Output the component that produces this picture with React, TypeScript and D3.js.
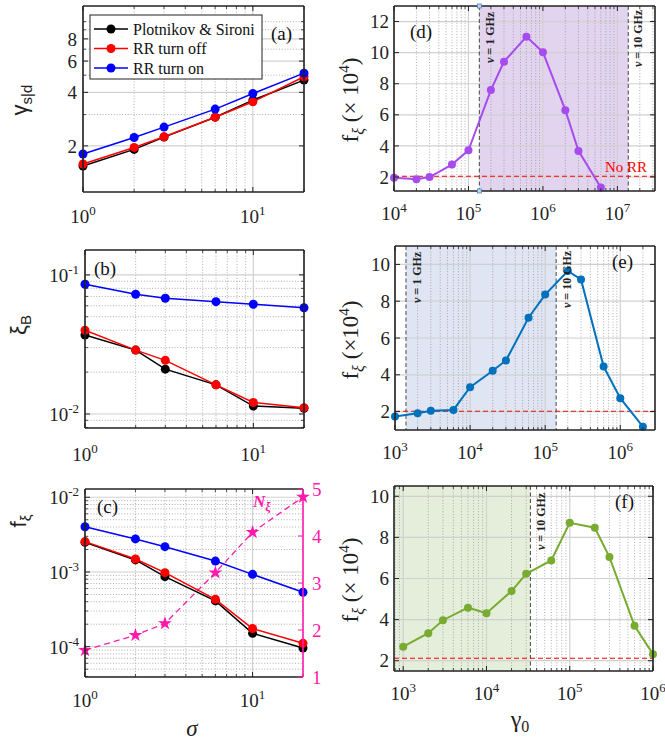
import React from "react";
import * as d3 from "d3";

const SERIF = "'Liberation Serif', 'Times New Roman', serif";
const SANS = "'Liberation Sans', Arial, sans-serif";

// ---------- data ----------
const SIGMA = [1, 2, 3, 6, 10, 20];
const GAMMA_PS = [1.54, 1.91, 2.24, 2.9, 3.62, 4.69];
const GAMMA_OFF = [1.58, 1.96, 2.25, 2.9, 3.54, 4.9];
const GAMMA_ON = [1.8, 2.23, 2.55, 3.22, 3.94, 5.13];
const XIB_PS = [0.037, 0.0288, 0.021, 0.0162, 0.0114, 0.011];
const XIB_OFF = [0.04, 0.0288, 0.0243, 0.0162, 0.0121, 0.0111];
const XIB_ON = [0.0857, 0.0726, 0.0679, 0.0642, 0.0615, 0.058];
const F_PS = [0.0025, 0.00145, 0.000865, 0.00041, 0.000151, 0.000096];
const F_OFF = [0.00255, 0.00149, 0.00098, 0.000431, 0.000175, 0.000111];
const F_ON = [0.00403, 0.00277, 0.00218, 0.0014, 0.00093, 0.000535];
const N_XI = [1.57, 1.89, 2.14, 3.22, 4.08, 4.83];

const GAMMA0_D = [1e4, 2e4, 3e4, 6e4, 1e5, 2e5, 3e5, 6e5, 1e6, 2e6, 3e6, 6e6];
const FXI_D = [1.96, 1.85, 2.0, 2.8, 3.72, 7.59, 9.42, 11.03, 10.03, 6.3, 3.68, 1.32];
const GAMMA0_E = [1e3, 2e3, 3e3, 6e3, 1e4, 2e4, 3e4, 6e4, 1e5, 2e5, 3e5, 6e5, 1e6, 2e6];
const FXI_E = [1.73, 1.91, 2.04, 2.09, 3.33, 4.22, 4.78, 7.1, 8.36, 9.64, 9.18, 4.45, 2.73, 1.18];
const GAMMA0_F = [1e3, 2e3, 3e3, 6e3, 1e4, 2e4, 3e4, 6e4, 1e5, 2e5, 3e5, 6e5, 1e6];
const FXI_F = [2.68, 3.34, 3.97, 4.58, 4.31, 5.39, 6.23, 6.88, 8.71, 8.47, 7.04, 3.7, 2.32];

const NO_RR_D = 2.05;
const NO_RR_E = 2.02;
const NO_RR_F = 2.12;
const BAND_D = [1.4e5, 1.4e7];
const BAND_E = [1.4e3, 1.4e5];
const BAND_F_EDGE = 3.37e4;

const TICKS_A_Y = [2, 4, 6, 8];
const TICKS_B_Y = [0.01, 0.1];
const TICKS_C_Y = [1e-4, 1e-3, 1e-2];
const TICKS_C_R = [1, 2, 3, 4, 5];
const TICKS_SIGMA = [1, 10];
const TICKS_D_X = [1e4, 1e5, 1e6, 1e7];
const TICKS_EF_X = [1e3, 1e4, 1e5, 1e6];
const TICKS_D_Y = [2, 4, 6, 8, 10, 12];
const TICKS_EF_Y = [2, 4, 6, 8, 10];

const LEGEND = [
  { label: "Plotnikov & Sironi", color: "#000000" },
  { label: "RR turn off", color: "#ff0000" },
  { label: "RR turn on", color: "#0000ff" },
];

const PURPLE = "#a64bee";
const MBLUE = "#0072bd";
const MGREEN = "#77ac30";
const PINK = "#ff1aac";

// ---------- helpers ----------
function logMinor(lo: number, hi: number) {
  const out: number[] = [];
  for (let k = Math.floor(Math.log10(lo)) - 1; k <= Math.ceil(Math.log10(hi)); k++) {
    for (let m = 1; m < 10; m++) {
      const v = m * Math.pow(10, k);
      if (v >= lo * 0.9999 && v <= hi * 1.0001) out.push(v);
    }
  }
  return out;
}
const isDecade = (v: number) => Math.abs(Math.log10(v) - Math.round(Math.log10(v))) < 1e-6;

type Box = { x0: number; x1: number; y0: number; y1: number };

function Grid({ b, xs, ys, xMajor, xMinor, yMajor, yMinor }: any) {
  const els: any[] = [];
  xMinor.forEach((v: number, i: number) =>
    els.push(<line key={"xm" + i} x1={xs(v)} x2={xs(v)} y1={b.y0} y2={b.y1} stroke="#9a9a9a" strokeWidth={0.8} strokeDasharray="1,1.8" />)
  );
  yMinor.forEach((v: number, i: number) =>
    els.push(<line key={"ym" + i} y1={ys(v)} y2={ys(v)} x1={b.x0} x2={b.x1} stroke="#9a9a9a" strokeWidth={0.8} strokeDasharray="1,1.8" />)
  );
  xMajor.forEach((v: number, i: number) =>
    els.push(<line key={"xM" + i} x1={xs(v)} x2={xs(v)} y1={b.y0} y2={b.y1} stroke="#d0d0d0" strokeWidth={1.2} />)
  );
  yMajor.forEach((v: number, i: number) =>
    els.push(<line key={"yM" + i} y1={ys(v)} y2={ys(v)} x1={b.x0} x2={b.x1} stroke="#d0d0d0" strokeWidth={1.2} />)
  );
  return <g>{els}</g>;
}

function Frame({ b, xs, ys, xMajor, xMinor, yMajor, yMinor, rightColor }: any) {
  const els: any[] = [];
  const c = "#222";
  xMajor.forEach((v: number, i: number) => {
    const x = xs(v);
    els.push(<line key={"tb" + i} x1={x} x2={x} y1={b.y1} y2={b.y1 - 5} stroke={c} strokeWidth={1} />);
    els.push(<line key={"tt" + i} x1={x} x2={x} y1={b.y0} y2={b.y0 + 5} stroke={c} strokeWidth={1} />);
  });
  xMinor.forEach((v: number, i: number) => {
    const x = xs(v);
    els.push(<line key={"mb" + i} x1={x} x2={x} y1={b.y1} y2={b.y1 - 3} stroke={c} strokeWidth={0.8} />);
    els.push(<line key={"mt" + i} x1={x} x2={x} y1={b.y0} y2={b.y0 + 3} stroke={c} strokeWidth={0.8} />);
  });
  yMajor.forEach((v: number, i: number) => {
    const y = ys(v);
    els.push(<line key={"tl" + i} y1={y} y2={y} x1={b.x0} x2={b.x0 + 5} stroke={c} strokeWidth={1} />);
    if (!rightColor) els.push(<line key={"tr" + i} y1={y} y2={y} x1={b.x1} x2={b.x1 - 5} stroke={c} strokeWidth={1} />);
  });
  yMinor.forEach((v: number, i: number) => {
    const y = ys(v);
    els.push(<line key={"ml" + i} y1={y} y2={y} x1={b.x0} x2={b.x0 + 3} stroke={c} strokeWidth={0.8} />);
    if (!rightColor) els.push(<line key={"mr" + i} y1={y} y2={y} x1={b.x1} x2={b.x1 - 3} stroke={c} strokeWidth={0.8} />);
  });
  return (
    <g>
      {els}
      <line x1={b.x0} x2={b.x1} y1={b.y0} y2={b.y0} stroke={c} strokeWidth={1.6} />
      <line x1={b.x0} x2={b.x1} y1={b.y1} y2={b.y1} stroke={c} strokeWidth={1.6} />
      <line x1={b.x0} x2={b.x0} y1={b.y0} y2={b.y1} stroke={c} strokeWidth={1.6} />
      <line x1={b.x1} x2={b.x1} y1={b.y0} y2={b.y1} stroke={rightColor || c} strokeWidth={1.6} />
    </g>
  );
}

function Pow10({ x, y, v, anchor = "middle" }: any) {
  const e = Math.round(Math.log10(v));
  return (
    <text x={x} y={y} textAnchor={anchor} fontFamily={SERIF} fontSize={19} fill="#222">
      10<tspan dy={-8} fontSize={13}>{e}</tspan>
    </text>
  );
}

function Series({ xs, ys, X, Y, color, r = 4.5, w = 1.5 }: any) {
  const pts = X.map((x: number, i: number) => [x, Y[i]]);
  const line = d3.line<number[]>().x((d) => xs(d[0])).y((d) => ys(d[1]));
  return (
    <g>
      <path d={line(pts) || ""} fill="none" stroke={color} strokeWidth={w} />
      {pts.map((p: number[], i: number) => (
        <circle key={i} cx={xs(p[0])} cy={ys(p[1])} r={r} fill={color} />
      ))}
    </g>
  );
}

function VText({ x, y, text, size = 12 }: any) {
  return (
    <text transform={`translate(${x},${y}) rotate(-90)`} fontFamily={SERIF} fontSize={size} fontWeight="bold" fill="#222" dominantBaseline="central">
      <tspan fontStyle="italic">ν</tspan>
      {text}
    </text>
  );
}

function RightYLabel({ x, y, spaced }: any) {
  return (
    <text transform={`translate(${x},${y}) rotate(-90)`} textAnchor="middle" fontFamily={SERIF} fontSize={23} fill="#222">
      f<tspan dy={6} fontSize={16} fontStyle="italic">ξ</tspan>
      <tspan dy={-6}>{spaced ? " (× 10" : " (×10"}</tspan>
      <tspan dy={-9} fontSize={15}>4</tspan>
      <tspan dy={9}>)</tspan>
    </text>
  );
}

export default function App() {
  // ---- left column scales ----
  const bA: Box = { x0: 83, x1: 304, y0: 6, y1: 192 };
  const xA = d3.scaleLog().domain([1, 20]).range([bA.x0, bA.x1]);
  const yA = d3.scaleLog().domain([1.1, 12.25]).range([bA.y1, bA.y0]);

  const bB: Box = { x0: 85, x1: 304, y0: 250, y1: 428 };
  const xB = d3.scaleLog().domain([1, 20]).range([bB.x0, bB.x1]);
  const yB = d3.scaleLog().domain([0.00793, 0.151]).range([bB.y1, bB.y0]);

  const bC: Box = { x0: 85, x1: 303, y0: 489, y1: 677 };
  const xC = d3.scaleLog().domain([1, 20]).range([bC.x0, bC.x1]);
  const yC = d3.scaleLog().domain([3.93e-5, 0.0129]).range([bC.y1, bC.y0]);
  const yCR = d3.scaleLinear().domain([1, 5]).range([bC.y1, bC.y0]);

  // ---- right column ----
  const bD: Box = { x0: 394, x1: 655, y0: 6, y1: 191 };
  const xD = d3.scaleLog().domain([1e4, 3.2e7]).range([bD.x0, bD.x1]);
  const yD = d3.scaleLinear().domain([1.1, 13]).range([bD.y1, bD.y0]);

  const bE: Box = { x0: 395, x1: 655, y0: 246, y1: 430 };
  const xE = d3.scaleLog().domain([1e3, 2.9e6]).range([bE.x0, bE.x1]);
  const yE = d3.scaleLinear().domain([1, 11]).range([bE.y1, bE.y0]);

  const bF: Box = { x0: 394, x1: 653, y0: 486, y1: 671 };
  const xF = d3.scaleLog().domain([775, 1e6]).range([bF.x0, bF.x1]);
  const yF = d3.scaleLinear().domain([1.5, 10.5]).range([bF.y1, bF.y0]);

  const sigMinor = logMinor(1, 20).filter((v) => !isDecade(v));
  const aYMinor = logMinor(1.1, 12.25).filter((v) => !TICKS_A_Y.includes(v));
  const bYMinor = logMinor(0.00793, 0.151).filter((v) => !isDecade(v));
  const cYMinor = logMinor(3.93e-5, 0.0129).filter((v) => !isDecade(v));
  const dXMinor = logMinor(1e4, 3.2e7).filter((v) => !isDecade(v));
  const eXMinor = logMinor(1e3, 2.9e6).filter((v) => !isDecade(v));
  const fXMinor = logMinor(775, 1e6).filter((v) => !isDecade(v));

  const star = d3.symbol().type(d3.symbolStar).size(60)();
  const nLine = d3.line<number>().x((_, i) => xC(SIGMA[i])).y((d) => yCR(d));

  return (
    <div style={{ position: "absolute", left: 0, top: 0 }}>
      <svg width={665} height={741} viewBox="0 0 665 741" style={{ display: "block", background: "#fff" }}>
        <rect x={0} y={0} width={665} height={741} fill="#fff" />

        {/* ================= (a) ================= */}
        <Grid b={bA} xs={xA} ys={yA} xMajor={TICKS_SIGMA} xMinor={sigMinor} yMajor={TICKS_A_Y} yMinor={aYMinor} />
        <Series xs={xA} ys={yA} X={SIGMA} Y={GAMMA_PS} color="#000" />
        <Series xs={xA} ys={yA} X={SIGMA} Y={GAMMA_OFF} color="#ff0000" />
        <Series xs={xA} ys={yA} X={SIGMA} Y={GAMMA_ON} color="#0000ff" />
        <Frame b={bA} xs={xA} ys={yA} xMajor={TICKS_SIGMA} xMinor={sigMinor} yMajor={TICKS_A_Y} yMinor={aYMinor} />
        {TICKS_A_Y.map((v) => (
          <text key={v} x={bA.x0 - 6} y={yA(v)} dy="0.35em" textAnchor="end" fontFamily={SERIF} fontSize={19} fill="#222">{v}</text>
        ))}
        {TICKS_SIGMA.map((v) => <Pow10 key={v} x={xA(v)} y={bA.y1 + 31} v={v} />)}
        <g>
          <rect x={90} y={15} width={172} height={64} fill="#fff" stroke="#222" strokeWidth={1} />
          {LEGEND.map((l, i) => (
            <g key={l.label}>
              <line x1={94} x2={128} y1={29 + i * 19.5} y2={29 + i * 19.5} stroke={l.color} strokeWidth={1.5} />
              <circle cx={111} cy={29 + i * 19.5} r={4.5} fill={l.color} />
              <text x={133} y={29 + i * 19.5} dy="0.35em" fontFamily={SERIF} fontSize={16} fill="#111">{l.label}</text>
            </g>
          ))}
        </g>
        <text x={271} y={40} fontFamily={SERIF} fontSize={19} fill="#111">(a)</text>
        <text transform="translate(27,100) rotate(-90)" textAnchor="middle" fontFamily={SANS} fontSize={22} fill="#222">
          γ<tspan dy={5} fontSize={15}>s|d</tspan>
        </text>

        {/* ================= (b) ================= */}
        <Grid b={bB} xs={xB} ys={yB} xMajor={TICKS_SIGMA} xMinor={sigMinor} yMajor={TICKS_B_Y} yMinor={bYMinor} />
        <Series xs={xB} ys={yB} X={SIGMA} Y={XIB_PS} color="#000" />
        <Series xs={xB} ys={yB} X={SIGMA} Y={XIB_OFF} color="#ff0000" />
        <Series xs={xB} ys={yB} X={SIGMA} Y={XIB_ON} color="#0000ff" />
        <Frame b={bB} xs={xB} ys={yB} xMajor={TICKS_SIGMA} xMinor={sigMinor} yMajor={TICKS_B_Y} yMinor={bYMinor} />
        {TICKS_B_Y.map((v) => <Pow10 key={v} x={bB.x0 - 6} y={yB(v) + 7} v={v} anchor="end" />)}
        {TICKS_SIGMA.map((v) => <Pow10 key={v} x={xB(v)} y={bB.y1 + 33} v={v} />)}
        <text x={94} y={275} fontFamily={SERIF} fontSize={19} fill="#111">(b)</text>
        <text transform="translate(26,325) rotate(-90)" textAnchor="middle" fontFamily={SANS} fontSize={22} fill="#222">
          ξ<tspan dy={5} fontSize={15}>B</tspan>
        </text>

        {/* ================= (c) ================= */}
        <Grid b={bC} xs={xC} ys={yC} xMajor={TICKS_SIGMA} xMinor={sigMinor} yMajor={TICKS_C_Y} yMinor={cYMinor} />
        <path d={nLine(N_XI) || ""} fill="none" stroke={PINK} strokeWidth={1.3} strokeDasharray="6,4" />
        {N_XI.map((v, i) => (
          <path key={i} d={star || ""} transform={`translate(${xC(SIGMA[i])},${yCR(v)})`} fill={PINK} />
        ))}
        <Series xs={xC} ys={yC} X={SIGMA} Y={F_ON} color="#0000ff" />
        <Series xs={xC} ys={yC} X={SIGMA} Y={F_PS} color="#000" />
        <Series xs={xC} ys={yC} X={SIGMA} Y={F_OFF} color="#ff0000" />
        <Frame b={bC} xs={xC} ys={yC} xMajor={TICKS_SIGMA} xMinor={sigMinor} yMajor={TICKS_C_Y} yMinor={cYMinor} rightColor={PINK} />
        {TICKS_C_R.map((v) => (
          <g key={v}>
            <line x1={bC.x1} x2={bC.x1 - 5} y1={yCR(v)} y2={yCR(v)} stroke={PINK} strokeWidth={1} />
            <text x={bC.x1 + 9} y={yCR(v)} dy="0.35em" fontFamily={SERIF} fontSize={19} fill={PINK}>{v}</text>
          </g>
        ))}
        {TICKS_C_Y.map((v) => <Pow10 key={v} x={bC.x0 - 6} y={yC(v) + 7} v={v} anchor="end" />)}
        {TICKS_SIGMA.map((v) => <Pow10 key={v} x={xC(v)} y={bC.y1 + 30} v={v} />)}
        <text x={97} y={513} fontFamily={SERIF} fontSize={19} fill="#111">(c)</text>
        <text x={253} y={507} fontFamily={SERIF} fontSize={17} fontWeight="bold" fontStyle="italic" fill={PINK}>
          N<tspan dy={4} fontSize={12}>ξ</tspan>
        </text>
        <text transform="translate(26,521) rotate(-90)" textAnchor="middle" fontFamily={SANS} fontSize={22} fill="#222">
          f<tspan dy={5} fontSize={15}>ξ</tspan>
        </text>
        <text x={192} y={736} textAnchor="middle" fontFamily={SERIF} fontSize={23} fontStyle="italic" fill="#222">σ</text>

        {/* ================= (d) ================= */}
        <rect x={xD(BAND_D[0])} y={bD.y0} width={xD(BAND_D[1]) - xD(BAND_D[0])} height={bD.y1 - bD.y0} fill="#e2d3ee" />
        <Grid b={bD} xs={xD} ys={yD} xMajor={TICKS_D_X} xMinor={dXMinor} yMajor={TICKS_D_Y} yMinor={[]} />
        {BAND_D.map((v) => (
          <line key={v} x1={xD(v)} x2={xD(v)} y1={bD.y0} y2={bD.y1} stroke="#333" strokeWidth={0.9} strokeDasharray="4,2.5" />
        ))}
        <line x1={bD.x0} x2={bD.x1} y1={yD(NO_RR_D)} y2={yD(NO_RR_D)} stroke="#ff0000" strokeWidth={1.2} strokeDasharray="5,3" />
        <Series xs={xD} ys={yD} X={GAMMA0_D} Y={FXI_D} color={PURPLE} r={4} w={2} />
        <Frame b={bD} xs={xD} ys={yD} xMajor={TICKS_D_X} xMinor={dXMinor} yMajor={TICKS_D_Y} yMinor={[]} />
        <rect x={xD(BAND_D[0]) - 2} y={bD.y0 - 2} width={4} height={4} fill="#bcd7ee" stroke="#4a84b8" strokeWidth={0.8} />
        <rect x={xD(BAND_D[0]) - 2} y={bD.y1 - 2} width={4} height={4} fill="#bcd7ee" stroke="#4a84b8" strokeWidth={0.8} />
        <VText x={xD(BAND_D[0]) + 11} y={63} text=" = 1 GHz" />
        <VText x={xD(BAND_D[1]) + 10} y={67} text=" = 10 GHz" />
        <text x={605} y={172} fontFamily={SERIF} fontSize={15} fill="#ff0000">No RR</text>
        <text x={410} y={38} fontFamily={SERIF} fontSize={19} fill="#111">(d)</text>
        {TICKS_D_Y.map((v) => (
          <text key={v} x={bD.x0 - 5} y={yD(v)} dy="0.35em" textAnchor="end" fontFamily={SERIF} fontSize={19} fill="#222">{v}</text>
        ))}
        {TICKS_D_X.map((v) => <Pow10 key={v} x={xD(v)} y={bD.y1 + 29} v={v} />)}
        <RightYLabel x={358} y={100} spaced={true} />

        {/* ================= (e) ================= */}
        <rect x={xE(BAND_E[0])} y={bE.y0} width={xE(BAND_E[1]) - xE(BAND_E[0])} height={bE.y1 - bE.y0} fill="#dfe5f2" />
        <Grid b={bE} xs={xE} ys={yE} xMajor={TICKS_EF_X} xMinor={eXMinor} yMajor={TICKS_EF_Y} yMinor={[]} />
        {BAND_E.map((v) => (
          <line key={v} x1={xE(v)} x2={xE(v)} y1={bE.y0} y2={bE.y1} stroke="#333" strokeWidth={0.9} strokeDasharray="4,2.5" />
        ))}
        <line x1={bE.x0} x2={bE.x1} y1={yE(NO_RR_E)} y2={yE(NO_RR_E)} stroke="#e01010" strokeWidth={1.1} strokeDasharray="5,3" />
        <Series xs={xE} ys={yE} X={GAMMA0_E} Y={FXI_E} color={MBLUE} r={4} w={2} />
        <Frame b={bE} xs={xE} ys={yE} xMajor={TICKS_EF_X} xMinor={eXMinor} yMajor={TICKS_EF_Y} yMinor={[]} />
        <VText x={xE(BAND_E[0]) + 11} y={303} text=" = 1 GHz" />
        <VText x={xE(BAND_E[1]) + 11} y={308} text=" = 10 GHz" />
        <text x={612} y={268} fontFamily={SERIF} fontSize={19} fill="#111">(e)</text>
        {TICKS_EF_Y.map((v) => (
          <text key={v} x={bE.x0 - 5} y={yE(v)} dy="0.35em" textAnchor="end" fontFamily={SERIF} fontSize={19} fill="#222">{v}</text>
        ))}
        {TICKS_EF_X.map((v) => <Pow10 key={v} x={xE(v)} y={bE.y1 + 29} v={v} />)}
        <RightYLabel x={358} y={340} spaced={false} />

        {/* ================= (f) ================= */}
        <rect x={bF.x0} y={bF.y0} width={xF(BAND_F_EDGE) - bF.x0} height={bF.y1 - bF.y0} fill="#e5eedb" />
        <Grid b={bF} xs={xF} ys={yF} xMajor={TICKS_EF_X} xMinor={fXMinor} yMajor={TICKS_EF_Y} yMinor={[]} />
        <line x1={xF(BAND_F_EDGE)} x2={xF(BAND_F_EDGE)} y1={bF.y0} y2={bF.y1} stroke="#333" strokeWidth={0.9} strokeDasharray="4,2.5" />
        <line x1={bF.x0} x2={bF.x1} y1={yF(NO_RR_F)} y2={yF(NO_RR_F)} stroke="#ff0000" strokeWidth={1.2} strokeDasharray="5,3" />
        <Series xs={xF} ys={yF} X={GAMMA0_F} Y={FXI_F} color={MGREEN} r={4} w={2} />
        <Frame b={bF} xs={xF} ys={yF} xMajor={TICKS_EF_X} xMinor={fXMinor} yMajor={TICKS_EF_Y} yMinor={[]} />
        <VText x={xF(BAND_F_EDGE) + 11} y={550} text=" = 10 GHz" />
        <text x={615} y={508} fontFamily={SERIF} fontSize={19} fill="#111">(f)</text>
        {TICKS_EF_Y.map((v) => (
          <text key={v} x={bF.x0 - 5} y={yF(v)} dy="0.35em" textAnchor="end" fontFamily={SERIF} fontSize={19} fill="#222">{v}</text>
        ))}
        {TICKS_EF_X.map((v) => <Pow10 key={v} x={xF(v)} y={bF.y1 + 29} v={v} />)}
        <RightYLabel x={358} y={580} spaced={true} />
        <text x={520} y={727} textAnchor="middle" fontFamily={SERIF} fontSize={24} fill="#222">
          γ<tspan dy={5} fontSize={16}>0</tspan>
        </text>
      </svg>
    </div>
  );
}
